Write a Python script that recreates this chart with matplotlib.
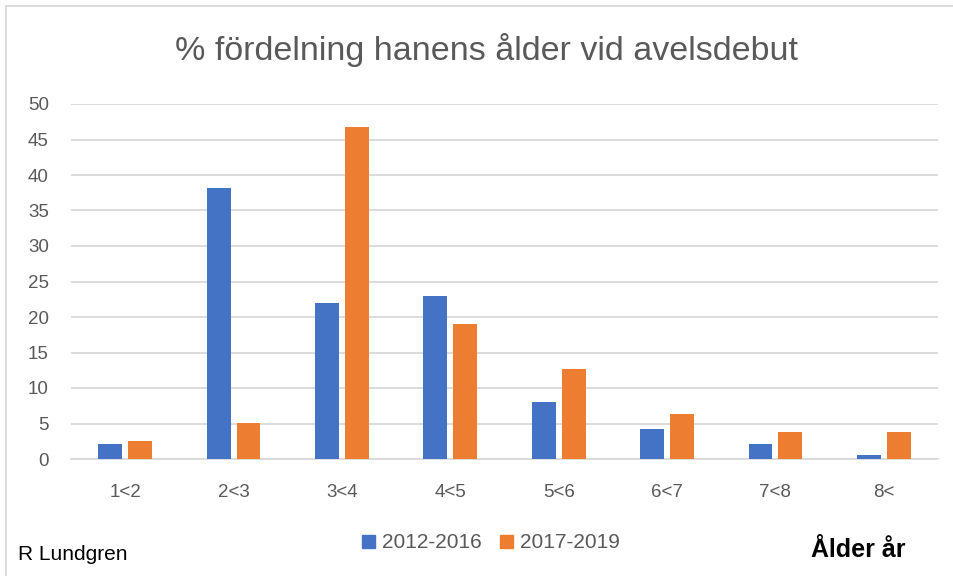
import numpy as np
import matplotlib
matplotlib.use("Agg")
import matplotlib.pyplot as plt
from matplotlib.lines import Line2D

# age groups and share (%) per period
categories = ["1<2", "2<3", "3<4", "4<5", "5<6", "6<7", "7<8", "8<"]
p2012_2016 = [2.1, 38.2, 22.0, 23.0, 8.0, 4.2, 2.1, 0.5]
p2017_2019 = [2.5, 5.1, 46.8, 19.0, 12.7, 6.3, 3.8, 3.8]
series_names = ["2012-2016", "2017-2019"]
yticks = [0, 5, 10, 15, 20, 25, 30, 35, 40, 45, 50]

blue = "#4472C4"
orange = "#ED7D31"
grey = "#595959"

plt.rcParams['font.family'] = ['Liberation Sans', 'DejaVu Sans']

fig = plt.figure(figsize=(9.54, 5.76), dpi=100)
ax = fig.add_axes([71/954, 1-459/576, (938-71)/954, (459-104)/576])

x = np.arange(len(categories))
w = 0.22
ax.bar(x - 0.138, p2012_2016, w, color=blue, label=series_names[0], zorder=3)
ax.bar(x + 0.138, p2017_2019, w, color=orange, label=series_names[1], zorder=3)

ax.set_xlim(-0.5, len(categories) - 0.5)
ax.set_ylim(0, 50)
ax.set_yticks(yticks)
ax.set_xticks(x)
ax.set_xticklabels(categories)
ax.tick_params(axis="both", length=0, labelsize=13.5, colors=grey)
ax.tick_params(axis="x", pad=18)
ax.tick_params(axis="y", pad=16)
ax.yaxis.grid(True, color="#d9d9d9", linewidth=1.3, zorder=0)
for s in ["top", "right", "left"]:
    ax.spines[s].set_visible(False)
ax.spines["bottom"].set_color("#d9d9d9")
ax.spines["bottom"].set_linewidth(1.3)

fig.text(487/954, 1-50/576, "% fördelning hanens ålder vid avelsdebut",
         ha="center", va="center", fontsize=24.5, color=grey)

handles = [plt.Rectangle((0, 0), 1, 1, color=blue), plt.Rectangle((0, 0), 1, 1, color=orange)]
fig.legend(handles, series_names, loc="center", bbox_to_anchor=(491/954, 1-543/576),
           ncol=2, frameon=False, fontsize=15, handlelength=0.6, handleheight=0.6,
           handletextpad=0.35, columnspacing=0.9, labelcolor=grey)

fig.text(18/954, 1-555/576, "R Lundgren", ha="left", va="center", fontsize=15, color="black")
fig.text(858/954, 1-550/576, "Ålder år", ha="center", va="center", fontsize=18,
         fontweight="bold", color="black")

# chart border (top and left visible in the original crop)
fig.add_artist(Line2D([6/954, 6/954], [0, 1-6/576], color="#d9d9d9", linewidth=1.3))
fig.add_artist(Line2D([6/954, 1], [1-6/576, 1-6/576], color="#d9d9d9", linewidth=1.3))

fig.savefig("out.png", dpi=100)
